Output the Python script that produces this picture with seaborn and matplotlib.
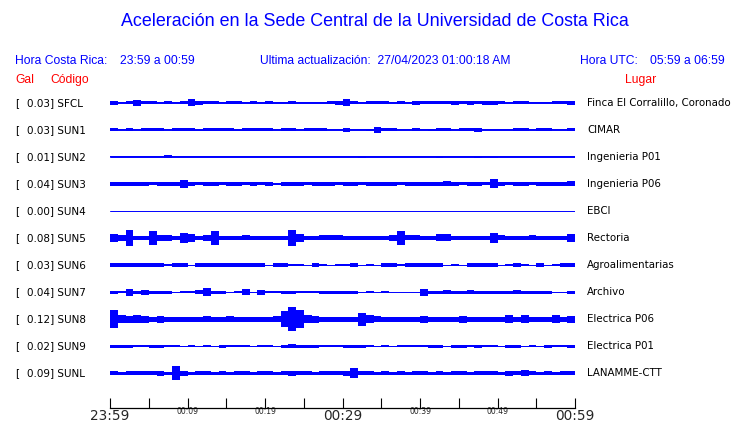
import numpy as np
import pandas as pd
import seaborn as sns
import matplotlib.pyplot as plt

# station table
codes = ["SFCL", "SUN1", "SUN2", "SUN3", "SUN4", "SUN5", "SUN6", "SUN7", "SUN8", "SUN9", "SUNL"]
gals = [0.03, 0.03, 0.01, 0.04, 0.00, 0.08, 0.03, 0.04, 0.12, 0.02, 0.09]
places = ["Finca El Corralillo, Coronado", "CIMAR", "Ingenieria P01", "Ingenieria P06", "EBCI",
          "Rectoria", "Agroalimentarias", "Archivo", "Electrica P06", "Electrica P01", "LANAMME-CTT"]

# per-minute envelope (half-height) from 23:59 to 00:59
env_sfcl = [2, 0.5, 1.5, 3, 1.5, 1.5, 0.5, 1.5, 0.5, 1.5, 3.5, 2, 1.5, 1.5, 0.5, 1.5, 1.5, 0.5, 1.5, 0.5,
            1.5, 0.5, 0.5, 1.5, 0.5, 0.5, 0.5, 0.5, 1.5, 2, 3.5, 1.5, 0.5, 1.5, 1.5, 1.5, 0.5, 1.5, 0.5, 2,
            1.5, 1.5, 1.5, 1.5, 2, 1.5, 2, 1.5, 2, 2, 1.5, 0.5, 1.5, 1.5, 0.5, 0.5, 0.5, 1.5, 1.5, 2]
env_sun1 = [1.5, 0.5, 1.5, 0.5, 1.5, 1.5, 1.5, 0.5, 1.5, 1.5, 1.5, 1, 1.5, 1.5, 1.5, 1.5, 1, 1.5, 1.5, 1.5,
            1.5, 0.5, 1.5, 1.5, 0.5, 1.5, 1.5, 1.5, 0.5, 0.5, 2, 0.5, 0.5, 1, 3, 1.5, 1.5, 0.5, 0.5, 1.5,
            0.5, 1, 1.5, 1.5, 0.5, 1.5, 1.5, 2, 0.5, 0.5, 0.5, 0.5, 1.5, 1.5, 0.5, 1.5, 1.5, 0.5, 0.5, 1.5]
env_sun2 = [0.5, 0.5, 0.5, 0.5, 0.5, 0.5, 0.5, 1.5, 0.5, 0.5, 0.5, 0.5, 0.5, 0.5, 0.5, 0.5, 0.5, 0.5, 0.5, 0.5,
            0.5, 0.5, 0.5, 0.5, 0.5, 0.5, 0.5, 0.5, 0.5, 0.5, 0.5, 0.5, 1, 0.5, 0.5, 0.5, 0.5, 0.5, 0.5, 0.5,
            0.5, 0.5, 1, 0.5, 0.5, 0.5, 0.5, 1, 0.5, 1, 0.5, 0.5, 0.5, 0.5, 0.5, 0.5, 0.5, 0.5, 0.5, 0.5]
env_sun3 = [2, 2, 2, 2, 2, 1.5, 2, 2, 2, 4, 2, 1.5, 2, 2, 1.5, 2, 2, 1.5, 2, 1.5,
            2, 1.2, 2, 2, 2, 1.5, 2, 2, 2, 1.5, 2, 2, 1.5, 2, 2, 2, 2, 1.5, 2, 2,
            2, 2, 2, 2.5, 2, 1.5, 2, 2, 1.5, 4.5, 2, 1.5, 2, 2, 1.5, 2, 2, 2, 2, 2.5]
env_sun4 = [0] * 60
env_sun5 = [4, 3, 8, 2, 2, 7, 3, 3, 2, 5, 4, 2, 3, 7, 2, 2, 2, 2.5, 2, 2,
            2, 2, 2, 8, 4, 2, 2, 2.5, 2.5, 2.5, 2, 2, 2, 2, 2, 2, 3, 7, 2.5, 2.5,
            2, 2, 3.5, 3.5, 2, 2, 2, 2, 2, 5, 2.5, 2, 2, 2, 2.5, 2, 2, 2, 2, 4]
env_sun6 = [2, 2, 2, 2, 2, 2, 2, 1, 2, 2, 0.5, 2, 2, 2, 2.5, 2, 2, 2, 2, 2,
            0.5, 2, 2, 1, 1, 0.5, 2, 1, 0.5, 1, 1, 2, 0.5, 1, 0.5, 2, 2, 1, 2, 2,
            2, 2, 2, 0.5, 1, 0.5, 2, 2, 2, 2, 0.5, 1, 2, 1, 0.5, 2, 0.5, 1, 2, 2]
env_sun7 = [1.5, 1, 3.5, 1.5, 2.5, 1.5, 1.5, 1.5, 0.5, 1, 1, 2, 4, 1.5, 1.5, 0.5, 1, 3, 0.5, 2.5,
            1, 1, 1.5, 1.5, 1, 1, 1, 1.5, 1.5, 1.5, 1.5, 1.5, 0.5, 1, 0.5, 1, 0.5, 0.5, 0.5, 0.5,
            3.5, 1.5, 1.5, 2, 1.5, 1.5, 2, 1.5, 1.5, 1.5, 1.5, 1.5, 2, 1.5, 1.5, 1.5, 1.5, 0.5, 0.5, 1.5]
env_sun8 = [9, 4, 3.5, 4, 3.5, 2.5, 3.5, 2.5, 2.5, 2.5, 2.5, 2.5, 3, 2.5, 2.5, 3, 2.5, 2.5, 2.5, 2.5,
            2.5, 3, 8, 12, 9, 4, 3.5, 2.5, 2.5, 2.5, 2.5, 2.5, 6.5, 4, 3, 2.5, 2.5, 2.5, 2.5, 2.5,
            3.5, 2.5, 2.5, 2.5, 2.5, 3.5, 2.5, 2.5, 2.5, 2.5, 2.5, 4, 2.5, 4, 2.5, 2.5, 2.5, 4, 2.5, 3.5]
env_sun9 = [1.5, 1.5, 1.5, 1, 1, 1.5, 1.5, 1, 1, 0.5, 1, 0.5, 1, 0.5, 1.5, 1, 1, 1, 0.5, 1,
            1, 0.5, 1.5, 2, 1.5, 1.5, 1.5, 1, 1, 1, 1.5, 1.5, 1.5, 1, 0.5, 1, 0.5, 1, 1, 1,
            1, 1.5, 1.5, 0.5, 1.5, 1.5, 1, 1.5, 1, 1, 0.5, 1.5, 1.5, 0.5, 1, 0.5, 1.5, 1, 1, 1.5]
env_sunl = [2, 1.5, 2, 2, 2, 2, 2.5, 1.5, 7, 2.5, 1.5, 2, 2, 1.5, 2, 1.5, 2, 2, 1.5, 2,
            2, 1.5, 2, 2.5, 2, 2, 1.5, 2, 2, 2, 2.5, 5, 2, 2, 1.5, 2, 1.5, 2, 1.5, 2,
            2, 1.5, 2, 1.5, 2, 2, 1.5, 2, 2, 2, 1.5, 2.5, 2, 3, 2, 1.5, 2, 1.5, 2, 2]

envs = [env_sfcl, env_sun1, env_sun2, env_sun3, env_sun4, env_sun5,
        env_sun6, env_sun7, env_sun8, env_sun9, env_sunl]

tick_minutes = list(range(0, 61, 5))
tick_labels = ["23:59", "", "00:09", "", "00:19", "", "00:29", "", "00:39", "", "00:49", "", "00:59"]

BLUE = "#0000ff"
W, H = 740, 423
ROW = 27.0  # px between traces

# long table for seaborn, one block per minute (last value repeated to close the hour)
rows = []
for i, (c, e) in enumerate(zip(codes, envs)):
    for m, a in enumerate(list(e) + [e[-1]]):
        rows.append({"station": c, "row": i, "minute": m, "amp": a})
df = pd.DataFrame(rows)

sns.set_theme(style="white")
plt.rcParams["font.family"] = ["DejaVu Sans"]

fig = plt.figure(figsize=(W / 100, H / 100), dpi=100)
ax = fig.add_axes([110 / W, (H - 408) / H, 465 / W, (408 - 88) / H])

# baselines
sns.lineplot(data=df, x="minute", y="row", units="station", estimator=None,
             color=BLUE, lw=0.7, ax=ax, legend=False)
# envelopes
for c, g in df.groupby("station", sort=False):
    a = g["amp"].to_numpy() / ROW
    ax.fill_between(g["minute"], g["row"] - a, g["row"] + a, step="post",
                    color=BLUE, lw=0)

ax.set_xlim(0, 60)
ax.set_ylim(10 + (408 - 373) / ROW, -(103 - 88) / ROW)
ax.set_xlabel("")
ax.set_ylabel("")
ax.set_yticks([])
for s in ["top", "left", "right"]:
    ax.spines[s].set_visible(False)
ax.spines["bottom"].set_color("black")
ax.spines["bottom"].set_linewidth(0.9)
ax.set_xticks(tick_minutes)
ax.set_xticklabels(tick_labels)
ax.tick_params(axis="x", direction="in", length=7, width=0.8, color="black", pad=1,
               bottom=True)
for m, lbl in zip(tick_minutes, ax.get_xticklabels()):
    if m in (0, 30, 60):
        lbl.set_fontsize(9.8)
    else:
        lbl.set_fontsize(5.5)
        lbl.set_y(0.008)
ax.patch.set_alpha(0)


def ftext(x, y, s, **kw):
    fig.text(x / W, 1 - y / H, s, va="center", **kw)


ftext(375, 22, "Aceleración en la Sede Central de la Universidad de Costa Rica",
      ha="center", color=BLUE, fontsize=12.9, family="Liberation Sans")
hdr = dict(color=BLUE, fontsize=8.7, family="Liberation Sans")
ftext(15, 61, "Hora Costa Rica:", **hdr)
ftext(120, 61, "23:59 a 00:59", **hdr)
ftext(260, 61, "Ultima actualización:  27/04/2023 01:00:18 AM", **hdr)
ftext(580, 61, "Hora UTC:", **hdr)
ftext(725, 61, "05:59 a 06:59", ha="right", **hdr)
red = dict(color="red", fontsize=8.7, family="Liberation Sans")
ftext(15, 80, "Gal", **red)
ftext(50, 80, "Código", **red)
ftext(625, 80, "Lugar", **red)

for i, (c, gl, p) in enumerate(zip(codes, gals, places)):
    y = 103 + ROW * i
    ftext(15, y, "[", fontsize=7.5, color="black")
    ftext(27, y, f"{gl:.2f}] {c}", fontsize=7.5, color="black")
    ftext(587, y, p, fontsize=7.4, color="black")

fig.savefig("out.png", dpi=100)
